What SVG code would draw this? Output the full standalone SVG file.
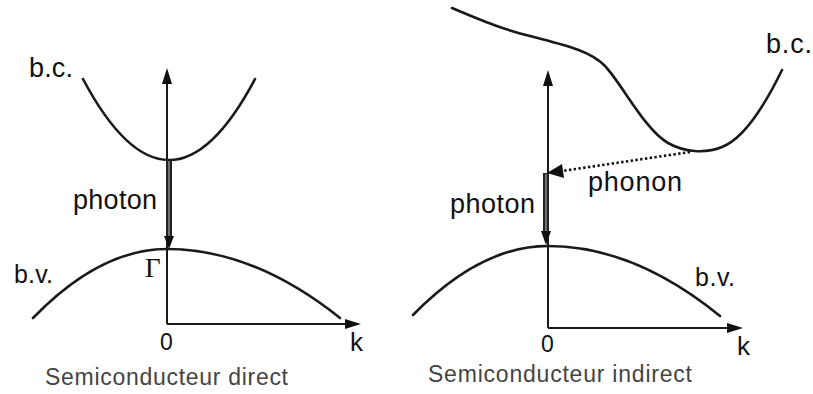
<svg xmlns="http://www.w3.org/2000/svg" width="813" height="394" viewBox="0 0 813 394">
<style>
.ax{stroke:#1a1a1a;stroke-width:2;fill:none}
.cv{stroke:#1a1a1a;stroke-width:2.6;fill:none;stroke-linecap:round}
.ah{fill:#111;stroke:none}
.lb{font-family:"Liberation Sans",Arial,sans-serif;fill:#111}
.cap{font-family:"Liberation Sans",Arial,sans-serif;fill:#444;font-size:23px}
.bar{stroke:#222;stroke-width:6;fill:none}
.barin{stroke:#707070;stroke-width:2;fill:none}
.dot{stroke:#111;stroke-width:2.6;stroke-dasharray:2.4 2.4;fill:none}
</style>
<rect width="813" height="394" fill="#fff"/>

<g id="direct">
  <g id="direct-axes">
    <line class="ax" x1="167" y1="324" x2="167" y2="80"/>
    <polygon class="ah" points="167,68 162,84 172,84"/>
    <line class="ax" x1="167" y1="324" x2="348" y2="324"/>
    <polygon class="ah" points="361,324 345,319 345,329"/>
  </g>
  <g id="direct-bc">
    <path class="cv" d="M83,79 Q169,241 255,79"/>
    <text class="lb" x="29" y="77" font-size="27" textLength="44">b.c.</text>
  </g>
  <g id="direct-bv">
    <path class="cv" d="M33,318 Q100,249 167,249 Q253.5,249 340,318"/>
    <text class="lb" x="14" y="283" font-size="25" textLength="39">b.v.</text>
    <text x="145" y="277" font-family="'Liberation Serif','Times New Roman',serif" font-size="27" fill="#111">Γ</text>
  </g>
  <g id="direct-photon">
    <line class="bar" x1="169" y1="161" x2="169" y2="238"/>
    <line class="barin" x1="169" y1="161" x2="169" y2="238"/>
    <polygon class="ah" points="169,249 164,236 174,236"/>
    <text class="lb" x="73" y="209" font-size="27" textLength="84">photon</text>
  </g>
  <text class="lb" x="160" y="350" font-size="23">0</text>
  <text class="lb" x="350" y="351" font-size="26">k</text>
  <text class="cap" x="45" y="385" textLength="243">Semiconducteur direct</text>
</g>

<g id="indirect">
  <g id="indirect-axes">
    <line class="ax" x1="548" y1="328" x2="548" y2="82"/>
    <polygon class="ah" points="548,70 543,86 553,86"/>
    <line class="ax" x1="548" y1="328" x2="730" y2="328"/>
    <polygon class="ah" points="743,328 727,323 727,333"/>
  </g>
  <g id="indirect-bc">
    <path class="cv" d="M452,8 C485,22 505,30 530,36 C560,44 590,50 605,66 C622,84 645,130 668,143 C684,152 705,154 722,147 C745,138 765,105 782,70"/>
    <text class="lb" x="766" y="53" font-size="27" textLength="46">b.c.</text>
  </g>
  <g id="indirect-bv">
    <path class="cv" d="M413,315 Q480.5,246 548,246 Q634,246 720,316"/>
    <text class="lb" x="695" y="286" font-size="25" textLength="40">b.v.</text>
  </g>
  <g id="connectors">
    <line class="dot" x1="690" y1="152" x2="562" y2="171"/>
    <polygon class="ah" points="547,173 562,164 564,178"/>
    <line class="bar" x1="546" y1="173" x2="546" y2="232"/>
    <line class="barin" x1="546" y1="174" x2="546" y2="232"/>
    <polygon class="ah" points="546,245 541,231 551,231"/>
  </g>
  <text class="lb" x="450" y="213" font-size="27" textLength="85">photon</text>
  <text class="lb" x="588" y="191" font-size="27" textLength="94">phonon</text>
  <text class="lb" x="541" y="352" font-size="23">0</text>
  <text class="lb" x="737" y="355" font-size="26">k</text>
  <text class="cap" x="428" y="382" textLength="264">Semiconducteur indirect</text>
</g>
</svg>
